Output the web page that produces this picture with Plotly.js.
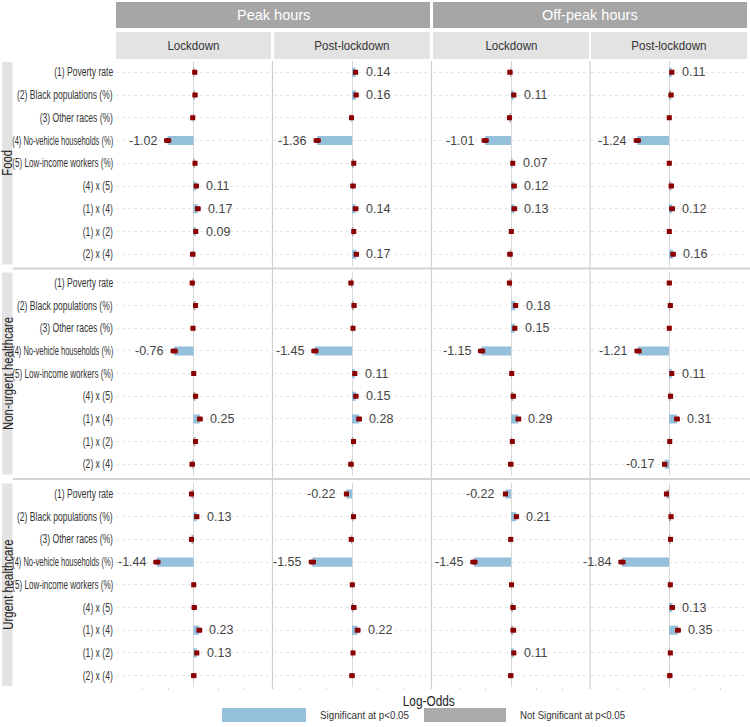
<!DOCTYPE html>
<html>
<head>
<meta charset="utf-8">
<script src="https://cdn.plot.ly/plotly-3.0.1.min.js"></script>
<style>html,body{margin:0;padding:0;background:#fff;}#chart{width:750px;height:727px;}</style>
</head>
<body>
<div id="chart"></div>
<script>
// ---- Data ----
const variables = ['(1) Poverty rate','(2) Black populations (%)','(3) Other races (%)','(4) No-vehicle households (%)','(5) Low-income workers (%)','(4) x (5)','(1) x (4)','(1) x (2)','(2) x (4)'];
const destinations = ['Food','Non-urgent healthcare','Urgent healthcare'];
const hourGroups = ['Peak hours','Off-peak hours'];
const periods = ['Lockdown','Post-lockdown','Lockdown','Post-lockdown'];
const ciHalf = [0.06,0.06,0.05,0.11,0.05,0.07,0.08,0.05,0.07];

// Food
const food_peak_lock = [0.05, 0.06, -0.03, -1.02, 0.06, 0.11, 0.17, 0.09, -0.03];
const food_peak_lock_sig = [0,0,0,1,0,1,1,1,0];
const food_peak_post = [0.14, 0.16, -0.02, -1.36, 0.07, 0.04, 0.14, 0.07, 0.17];
const food_peak_post_sig = [1,1,0,1,0,0,1,0,1];
const food_off_lock = [-0.04, 0.11, -0.06, -1.01, 0.07, 0.12, 0.13, 0.01, -0.04];
const food_off_lock_sig = [0,1,0,1,1,1,1,0,0];
const food_off_post = [0.11, 0.08, 0.01, -1.24, 0.01, 0.09, 0.12, 0.01, 0.16];
const food_off_post_sig = [1,0,0,1,0,0,1,0,1];
// Non-urgent healthcare
const nonurg_peak_lock = [-0.05, 0.08, -0.02, -0.76, 0.01, 0.08, 0.25, 0.08, -0.05];
const nonurg_peak_lock_sig = [0,0,0,1,0,0,1,0,0];
const nonurg_peak_post = [-0.04, 0.08, 0.04, -1.45, 0.11, 0.15, 0.28, 0.06, -0.04];
const nonurg_peak_post_sig = [0,0,0,1,1,1,1,0,0];
const nonurg_off_lock = [-0.06, 0.18, 0.15, -1.15, 0.03, 0.09, 0.29, 0.05, -0.01];
const nonurg_off_lock_sig = [0,1,1,1,0,0,1,0,0];
const nonurg_off_post = [0.01, 0.05, 0.01, -1.21, 0.11, 0.06, 0.31, 0.03, -0.17];
const nonurg_off_post_sig = [0,0,0,1,1,0,1,0,1];
// Urgent healthcare
const urg_peak_lock = [-0.08, 0.13, -0.08, -1.44, 0.01, 0.03, 0.23, 0.13, 0.01];
const urg_peak_lock_sig = [0,1,0,1,0,0,1,1,0];
const urg_peak_post = [-0.22, 0.06, -0.03, -1.55, 0.01, 0.07, 0.22, 0.04, 0.00];
const urg_peak_post_sig = [1,0,0,1,0,0,1,0,0];
const urg_off_lock = [-0.22, 0.21, -0.01, -1.45, 0.02, 0.08, 0.09, 0.11, -0.01];
const urg_off_lock_sig = [1,1,0,1,0,0,0,1,0];
const urg_off_post = [-0.10, 0.08, 0.06, -1.84, 0.05, 0.13, 0.35, 0.05, 0.03];
const urg_off_post_sig = [0,0,0,1,0,1,1,0,0];

const estimates = [
  [food_peak_lock, food_peak_post, food_off_lock, food_off_post],
  [nonurg_peak_lock, nonurg_peak_post, nonurg_off_lock, nonurg_off_post],
  [urg_peak_lock, urg_peak_post, urg_off_lock, urg_off_post]
];
const significance = [
  [food_peak_lock_sig, food_peak_post_sig, food_off_lock_sig, food_off_post_sig],
  [nonurg_peak_lock_sig, nonurg_peak_post_sig, nonurg_off_lock_sig, nonurg_off_post_sig],
  [urg_peak_lock_sig, urg_peak_post_sig, urg_off_lock_sig, urg_off_post_sig]
];

// ---- Layout geometry ----
const W = 750, H = 727;
const fx = x => x / W;
const fy = y => 1 - y / H;
const colPx = [[116,271],[274,430],[433,589],[591,747]];
const rowPx = [[61,265.6],[271.6,475.6],[482.6,687]];
const SIG = '#94c0dc', NSIG = '#aaaaaa', RED = '#8b0000';
const REG = 'Liberation Sans, Arial, sans-serif';

const data = [];
const layout = {
  width: W, height: H,
  margin: {l:0, r:0, t:0, b:0},
  paper_bgcolor: '#fff', plot_bgcolor: 'rgba(0,0,0,0)',
  showlegend: false,
  shapes: [], annotations: []
};

for (let r = 0; r < 3; r++) {
  for (let c = 0; c < 4; c++) {
    const n = r * 4 + c + 1;
    const xa = 'x' + n, ya = 'y' + n;
    const est = estimates[r][c], sig = significance[r][c];
    data.push({
      type: 'bar', orientation: 'h', x: est, y: variables, width: 0.4,
      marker: {color: sig.map(s => s ? SIG : NSIG), line: {width: 0}},
      xaxis: xa, yaxis: ya, hoverinfo: 'skip'
    });
    data.push({
      type: 'scatter', mode: 'markers', x: est, y: variables,
      marker: {symbol: 'square', size: 5, color: RED},
      error_x: {type: 'data', array: ciHalf, color: RED, thickness: 1.6, width: 2},
      xaxis: xa, yaxis: ya, hoverinfo: 'skip'
    });
    layout['xaxis' + n] = {
      domain: [fx(colPx[c][0]), fx(colPx[c][1])], anchor: ya,
      range: [-3.05, 3.05], showticklabels: false, showgrid: false,
      zeroline: true, zerolinecolor: '#d8d8d8', zerolinewidth: 1,
      showline: false, fixedrange: true,
      tickvals: [-2, -1, 1, 2], ticks: r === 2 ? 'outside' : '', ticklen: 2, tickcolor: '#dddddd'
    };
    layout['yaxis' + n] = {
      domain: [fy(rowPx[r][1]), fy(rowPx[r][0])], anchor: xa,
      type: 'category', categoryarray: variables, categoryorder: 'array',
      range: [8.5, -0.5], showgrid: true, gridcolor: '#e6e6e6', griddash: 'dot', gridwidth: 1,
      zeroline: false, showline: false, ticks: '', fixedrange: true,
      showticklabels: false
    };
    // variable names, right-aligned left of the first column
    if (c === 0) {
      variables.forEach((v, i) => {
        layout.annotations.push({
          xref: 'paper', yref: ya, x: fx(114), y: i, text: v, showarrow: false,
          xanchor: 'right', align: 'right', yanchor: 'middle', borderpad: 0,
          font: {family: REG, size: 12.5, color: '#333'}
        });
      });
    }
    est.forEach((v, i) => {
      if (!sig[i]) return;
      layout.annotations.push({
        xref: xa, yref: ya, x: v, y: i, text: v.toFixed(2), showarrow: false,
        xanchor: v < 0 ? 'right' : 'left', yanchor: 'middle',
        xshift: v < 0 ? -9 : 9, borderpad: 0,
        font: {family: REG, size: 12.5, color: '#444'}
      });
    });
  }
}

// Strips: hour groups
hourGroups.forEach((h, g) => {
  const x0 = colPx[g*2][0], x1 = colPx[g*2+1][1];
  layout.shapes.push({type:'rect', xref:'paper', yref:'paper', x0: fx(x0), x1: fx(x1), y0: fy(28), y1: fy(2), fillcolor:'#a6a6a6', line:{width:0}, layer:'below'});
  layout.annotations.push({xref:'paper', yref:'paper', x: fx((x0+x1)/2), y: fy(15), text: h, showarrow:false, xanchor:'center', yanchor:'middle', font:{family: REG, size: 14.5, color:'#fff'}});
});
// Strips: periods
periods.forEach((p, c) => {
  const x0 = colPx[c][0], x1 = colPx[c][1];
  layout.shapes.push({type:'rect', xref:'paper', yref:'paper', x0: fx(x0), x1: fx(x1), y0: fy(59), y1: fy(32), fillcolor:'#e3e3e3', line:{width:0}, layer:'below'});
  layout.annotations.push({xref:'paper', yref:'paper', x: fx((x0+x1)/2), y: fy(45.5), text: p, showarrow:false, xanchor:'center', yanchor:'middle', font:{family: REG, size: 13.5, color:'#333'}});
});
// Strips: destinations (left)
destinations.forEach((d, r) => {
  const y0 = rowPx[r][0] + 1, y1 = rowPx[r][1] - 1;
  layout.shapes.push({type:'rect', xref:'paper', yref:'paper', x0: fx(2), x1: fx(12.5), y0: fy(y1), y1: fy(y0), fillcolor:'#e3e3e3', line:{width:0}, layer:'below'});
  layout.annotations.push({xref:'paper', yref:'paper', x: fx(7.5), y: fy((y0+y1)/2), text: d, textangle: -90, showarrow:false, xanchor:'center', yanchor:'middle', font:{family: REG, size: 14, color:'#222'}});
});
// Panel separators
[272.5, 431.5, 590].forEach(x => {
  layout.shapes.push({type:'line', xref:'paper', yref:'paper', x0: fx(x), x1: fx(x), y0: fy(689), y1: fy(61), line:{color:'#cfcfcf', width:1.2}});
});
[268.6, 479.1].forEach(y => {
  layout.shapes.push({type:'line', xref:'paper', yref:'paper', x0: fx(13), x1: fx(750), y0: fy(y), y1: fy(y), line:{color:'#d4d4d4', width:2}});
});

// Axis title and legend
layout.annotations.push({xref:'paper', yref:'paper', x: fx(429), y: fy(701), text:'Log-Odds', showarrow:false, xanchor:'center', yanchor:'middle', font:{family: REG, size: 14, color:'#222'}});
const legendItems = [
  {label: 'Significant at p<0.05', color: SIG, x0: 222, x1: 306, tx: 318},
  {label: 'Not Significant at p<0.05', color: NSIG, x0: 424, x1: 506, tx: 518}
];
legendItems.forEach(it => {
  layout.shapes.push({type:'rect', xref:'paper', yref:'paper', x0: fx(it.x0), x1: fx(it.x1), y0: fy(722), y1: fy(708), fillcolor: it.color, line:{width:0}});
  layout.annotations.push({xref:'paper', yref:'paper', x: fx(it.tx), y: fy(715), text: it.label, showarrow:false, xanchor:'left', align:'left', yanchor:'middle', font:{family: REG, size: 11.5, color:'#333'}});
});

// Condensed look (the reference uses a narrow typeface for these labels)
function fitGroup(elems, refText, targetLen, maxLen) {
  if (!elems.length) return;
  elems.forEach(e => { e.removeAttribute('textLength'); e.removeAttribute('lengthAdjust'); });
  const ref = elems.find(e => e.textContent === refText);
  if (!ref) return;
  const rl = ref.getComputedTextLength();
  if (!(rl > 0)) return;
  const f = Math.min(1, targetLen / rl);
  elems.forEach(e => {
    const L = e.getComputedTextLength();
    if (L > 0) {
      const len = Math.min(L * f, maxLen || Infinity);
      e.setAttribute('textLength', len.toFixed(2));
      e.setAttribute('lengthAdjust', 'spacingAndGlyphs');
    }
  });
}
function condenseAll() {
  const gd = document.getElementById('chart');
  const ann = Array.from(gd.querySelectorAll('g.annotation text'));
  const pick = set => ann.filter(t => set.includes(t.textContent));
  fitGroup(pick(variables), '(1) Poverty rate', 59, 101);
  fitGroup(pick(periods), 'Lockdown', 52);
  fitGroup(pick(destinations), 'Non-urgent healthcare', 113);
  fitGroup(pick(['Log-Odds']), 'Log-Odds', 52);
  fitGroup(pick([legendItems[0].label]), legendItems[0].label, 89);
  fitGroup(pick([legendItems[1].label]), legendItems[1].label, 105);
}
Plotly.newPlot('chart', data, layout, {staticPlot: true, displayModeBar: false}).then(gd => {
  condenseAll();
  [30, 150, 400].forEach(t => setTimeout(condenseAll, t));
});
</script>
</body>
</html>
